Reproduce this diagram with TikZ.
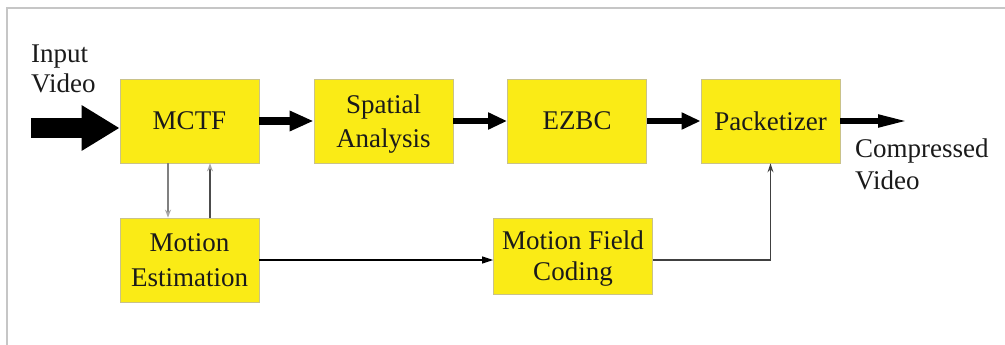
\documentclass[tikz,border=0pt]{standalone}
\usepackage{fontspec}
\setmainfont{Liberation Serif}
\usetikzlibrary{arrows.meta}
\definecolor{boxyellow}{HTML}{FAEB16}
\definecolor{boxedge}{HTML}{C9C28A}
\definecolor{framegray}{HTML}{C6C6C6}
\definecolor{txt}{HTML}{1A1A1A}
\begin{document}
\begin{tikzpicture}[x=1pt,y=-1pt,
  every node/.style={font=\fontsize{27}{34}\selectfont, inner sep=0pt, text=txt},
  box/.style={draw=boxedge, line width=0.8pt, fill=boxyellow, align=center,
              minimum width=139pt, minimum height=84pt, text depth=0pt},
  bigflow/.style={line width=20pt, -{Triangle[length=38pt,width=43pt]}},
  mainflow/.style={line width=8pt, -{Triangle[length=24pt,width=19pt]}},
  flow/.style={line width=5pt, -{Triangle[length=19pt,width=16pt]}},
  outflow/.style={line width=5pt, -{Triangle[length=29pt,width=12pt]}},
  thinflow/.style={line width=1.3pt, -{Triangle[length=11pt,width=7pt]}},
  sideflow/.style={line width=1.3pt, draw=black!75, -{Stealth[length=9pt,width=6pt]}},
  meflow/.style={line width=2pt, draw=black!50, -{Stealth[length=8pt,width=6pt,color=black!35]}},
  backflow/.style={line width=1.5pt, draw=black!70, -{Stealth[length=8pt,width=6pt,color=black!35]}},
  frameline/.style={draw=framegray, line width=2.5pt}
]
\useasboundingbox (0,0) rectangle (1005,345);
\draw[frameline] (7,346) -- (7,8) -- (1006,8);

\node[box] (mctf) at (189.5,121) {MCTF};
\node[box] (sa) at (383.5,121) {Spatial\\Analysis};
\node[box] (ezbc) at (577,121) {EZBC};
\node[box] (pack) at (770.5,121) {Packetizer};
\node[box, font=\fontsize{27}{35}\selectfont] (me) at (189.5,260) {Motion\\Estimation};
\node[box, minimum width=159pt, minimum height=76pt, text depth=-12pt,
      font=\fontsize{27}{31}\selectfont] (mfc) at (573,256) {Motion Field\\Coding};

\node[anchor=north west, align=left, font=\fontsize{27}{30}\selectfont] (inlabel) at (31,45) {Input\\Video};
\node[anchor=north west, align=left, font=\fontsize{27}{32}\selectfont] (outlabel) at (855,139) {Compressed\\Video};

\coordinate (in) at (31,128);
\coordinate (out) at (907,121);

\draw[bigflow] (in) -- (in -| mctf.west);
\draw[mainflow] (mctf) -- (sa);
\draw[flow] (sa) -- (ezbc);
\draw[flow] (ezbc) -- (pack);
\draw[outflow] (pack) -- (out);

\draw[meflow] ([xshift=-21.5pt]mctf.south) -- ([xshift=-21.5pt]me.north);
\draw[backflow] ([xshift=20.5pt]me.north) -- ([xshift=20.5pt]mctf.south);

\draw[thinflow] (me.east) -- (me.east -| mfc.west);
\draw[sideflow] (mfc.east |- me.east) -| (pack.south);
\end{tikzpicture}
\end{document}
